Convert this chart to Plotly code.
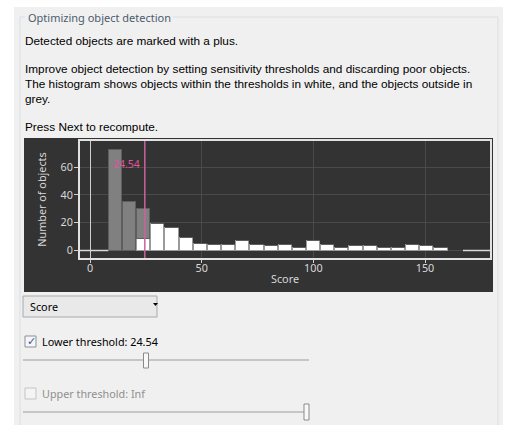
import numpy as np
import plotly.graph_objects as go

# ---------------- data ----------------
bin_min = 8.2
bin_max = 160.3
total_counts = [72, 35, 30, 19, 16, 9, 5, 4, 4, 7, 4, 3, 4, 2, 7, 4, 2, 3, 3, 2, 2, 4, 3, 2]
threshold = 24.54
inside_part_of_split_bin = 8          # white part of the bin that straddles the threshold
empty_left = [-4.5, 8.2]              # zero-count segments at the ends
empty_right = [167.0, 179.1]
x_ticks = [0, 50, 100, 150]
y_ticks = [0, 20, 40, 60]

edges = np.linspace(bin_min, bin_max, len(total_counts) + 1)
centers = (edges[:-1] + edges[1:]) / 2
bw = edges[1] - edges[0]

inside, outside = [], []
for lo, hi, c in zip(edges[:-1], edges[1:], total_counts):
    if hi <= threshold:
        inside.append(0); outside.append(c)
    elif lo >= threshold:
        inside.append(c); outside.append(0)
    else:
        inside.append(inside_part_of_split_bin); outside.append(c - inside_part_of_split_bin)

W, H = 507, 425
def X(px): return px / W
def Y(py): return 1 - py / H

fig = go.Figure()
fig.add_trace(go.Bar(x=centers, y=inside, width=bw * 0.93,
                     marker=dict(color="#ffffff", line=dict(color="#9a9a9a", width=1)),
                     showlegend=False))
fig.add_trace(go.Bar(x=centers, y=outside, width=bw * 0.93,
                     marker=dict(color="#808080", line=dict(color="#5e5e5e", width=1)),
                     showlegend=False))
for seg in (empty_left, empty_right):
    fig.add_trace(go.Scatter(x=seg, y=[0, 0], mode="lines",
                             line=dict(color="#d8d8d8", width=1.5), showlegend=False))

shapes = []
shapes.append(dict(type="rect", xref="paper", yref="paper", x0=X(14), x1=X(503), y0=Y(425), y1=Y(7),
                   fillcolor="#f0f0f0", line=dict(width=0), layer="below"))
gb = "#d9e0e6"
shapes += [
    dict(type="line", xref="paper", yref="paper", x0=X(20), x1=X(20), y0=Y(425), y1=Y(17), line=dict(color=gb, width=1), layer="below"),
    dict(type="line", xref="paper", yref="paper", x0=X(498), x1=X(498), y0=Y(425), y1=Y(17), line=dict(color=gb, width=1), layer="below"),
    dict(type="line", xref="paper", yref="paper", x0=X(20), x1=X(25), y0=Y(17), y1=Y(17), line=dict(color=gb, width=1), layer="below"),
    dict(type="line", xref="paper", yref="paper", x0=X(173), x1=X(498), y0=Y(17), y1=Y(17), line=dict(color=gb, width=1), layer="below"),
]
shapes.append(dict(type="rect", xref="paper", yref="paper", x0=X(24), x1=X(493), y0=Y(292), y1=Y(138),
                   fillcolor="#333333", line=dict(width=0), layer="below"))
shapes.append(dict(type="line", xref="x", yref="y domain", x0=threshold, x1=threshold, y0=0, y1=1,
                   line=dict(color="#c8649b", width=1.5)))
shapes.append(dict(type="rect", xref="paper", yref="paper", x0=X(23), x1=X(157), y0=Y(317), y1=Y(296),
                   fillcolor="#e9e9e9", line=dict(color="#a9a9a9", width=1)))
shapes.append(dict(type="path", xref="paper", yref="paper",
                   path=f"M {X(153)} {Y(303)} L {X(158)} {Y(303)} L {X(155.5)} {Y(306)} Z",
                   fillcolor="#000000", line=dict(width=0)))
shapes.append(dict(type="rect", xref="paper", yref="paper", x0=X(25), x1=X(36), y0=Y(347), y1=Y(336),
                   fillcolor="#f4f6fa", line=dict(color="#8e8f8f", width=1)))
shapes.append(dict(type="rect", xref="paper", yref="paper", x0=X(25), x1=X(36), y0=Y(399), y1=Y(388),
                   fillcolor="#f4f4f4", line=dict(color="#c4c4c4", width=1)))
shapes.append(dict(type="line", xref="paper", yref="paper", x0=X(23), x1=X(309), y0=Y(360), y1=Y(360),
                   line=dict(color="#c6c6c6", width=2)))
shapes.append(dict(type="rect", xref="paper", yref="paper", x0=X(143.5), x1=X(148.5), y0=Y(368), y1=Y(353),
                   fillcolor="#f8f8f8", line=dict(color="#8a8a8a", width=1)))
shapes.append(dict(type="line", xref="paper", yref="paper", x0=X(23), x1=X(307), y0=Y(412), y1=Y(412),
                   line=dict(color="#c6c6c6", width=2)))
shapes.append(dict(type="rect", xref="paper", yref="paper", x0=X(304), x1=X(309), y0=Y(420), y1=Y(404),
                   fillcolor="#f8f8f8", line=dict(color="#8a8a8a", width=1)))

body = dict(family="Liberation Sans, Arial", size=11.8, color="#000000")
ui = dict(family="Noto Sans, Open Sans", size=10.8, color="#000000")
ann = []
def txt(px, py, s, font, anchor="left"):
    ann.append(dict(xref="paper", yref="paper", x=X(px), y=Y(py), text=s, showarrow=False,
                    xanchor=anchor, yanchor="middle", font=font))
txt(26, 17, "Optimizing object detection", dict(family="Noto Sans, Open Sans", size=11, color="#4d5b6e"))
txt(23, 41, "Detected objects are marked with a plus.", body)
txt(23, 69, "Improve object detection by setting sensitivity thresholds and discarding poor objects.", body)
txt(23, 84, "The histogram shows objects within the thresholds in white, and the objects outside in", body)
txt(23, 99, "grey.", body)
txt(23, 127, "Press Next to recompute.", body)
txt(28, 306.5, "Score", ui)
txt(24.5, 341.5, "✓", dict(family="DejaVu Sans", size=11, color="#3b55a0"))
txt(40, 341.5, "Lower threshold: 24.54", ui)
txt(40, 393.5, "Upper threshold: Inf", dict(family="Noto Sans, Open Sans", size=10.8, color="#8f8f8f"))
ann.append(dict(xref="x", yref="y", x=threshold, y=62, text=f"{threshold:.2f}", showarrow=False,
                xanchor="right", yanchor="middle", xshift=-3,
                font=dict(family="Noto Sans, Open Sans", size=10.5, color="#e0559e")))

axfont = dict(family="Noto Sans, Open Sans", size=10.8, color="#d8d8d8")
fig.update_layout(
    width=W, height=H, margin=dict(l=0, r=0, t=0, b=0),
    paper_bgcolor="#ffffff", plot_bgcolor="rgba(0,0,0,0)",
    barmode="stack", bargap=0, shapes=shapes, annotations=ann,
    xaxis=dict(domain=[X(80), X(490)], range=[-4.48, 179.1], tickvals=x_ticks,
               showgrid=True, gridcolor="#4a4a4a", gridwidth=1,
               zeroline=True, zerolinecolor="#cfcfcf", zerolinewidth=1,
               showline=True, mirror=True, linecolor="#e2e2e2", linewidth=2,
               ticks="outside", ticklen=3, tickcolor="#d0d0d0", ticklabelstandoff=-4,
               tickfont=axfont, title=dict(text="Score", font=axfont, standoff=1)),
    yaxis=dict(domain=[Y(258), Y(141)], range=[-5.4, 78.8], tickvals=y_ticks,
               showgrid=True, gridcolor="#4a4a4a", gridwidth=1, zeroline=False,
               showline=True, mirror=True, linecolor="#e2e2e2", linewidth=2,
               ticks="outside", ticklen=4, tickcolor="#d0d0d0", ticklabelstandoff=-1,
               tickfont=axfont, title=dict(text="Number of objects", font=axfont, standoff=12)),
)
fig.write_html("out.html", config={"displayModeBar": False},
               post_script="document.body.style.margin='0';")
